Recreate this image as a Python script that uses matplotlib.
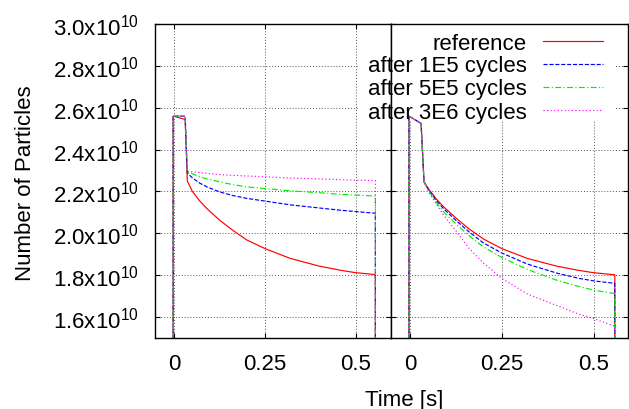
#Purpose: particle number vs time, reference against cycled runs (two panels)

import matplotlib
matplotlib.use('Agg')
import matplotlib.pyplot as plt
from matplotlib.lines import Line2D
from matplotlib.patches import Rectangle

plt.rcParams['font.family'] = ['Liberation Sans', 'DejaVu Sans']
plt.rcParams['mathtext.fontset'] = 'custom'
plt.rcParams['mathtext.rm'] = 'Liberation Sans'
plt.rcParams['mathtext.it'] = 'Liberation Sans:italic'
plt.rcParams['mathtext.bf'] = 'Liberation Sans:bold'
plt.rcParams['font.size'] = 16

#Data, particle numbers in units of 1e10
labels = ['reference', 'after 1E5 cycles', 'after 5E5 cycles', 'after 3E6 cycles']

t_left = [-0.003, -0.003, 0.03, 0.036, 0.05, 0.07, 0.09, 0.125, 0.16, 0.2,
          0.25, 0.32, 0.4, 0.46, 0.5, 0.554, 0.554]
ref_left = [0, 2.56, 2.544, 2.25, 2.20, 2.155, 2.118, 2.063, 2.016, 1.968,
            1.927, 1.880, 1.843, 1.823, 1.812, 1.803, 0]
c1e5_left = [0, 2.56, 2.56, 2.288, 2.265, 2.24, 2.222, 2.198, 2.181, 2.167,
             2.154, 2.136, 2.121, 2.110, 2.104, 2.096, 0]
c5e5_left = [0, 2.56, 2.56, 2.292, 2.285, 2.27, 2.26, 2.246, 2.233, 2.222,
             2.214, 2.203, 2.194, 2.186, 2.183, 2.178, 0]
c3e6_left = [0, 2.56, 2.56, 2.297, 2.294, 2.29, 2.286, 2.281, 2.277, 2.274,
             2.270, 2.264, 2.260, 2.256, 2.254, 2.252, 0]

t_right = [-0.003, -0.003, 0.03, 0.038, 0.05, 0.07, 0.09, 0.125, 0.16, 0.2,
           0.25, 0.32, 0.4, 0.46, 0.5, 0.558, 0.558]
ref_right = [0, 2.56, 2.525, 2.246, 2.213, 2.167, 2.129, 2.073, 2.022, 1.973,
             1.927, 1.880, 1.843, 1.823, 1.812, 1.802, 0]
c1e5_right = [0, 2.56, 2.525, 2.246, 2.21, 2.16, 2.12, 2.062, 2.008, 1.954,
              1.906, 1.853, 1.81, 1.785, 1.773, 1.761, 0]
c5e5_right = [0, 2.56, 2.525, 2.246, 2.205, 2.15, 2.105, 2.045, 1.99, 1.935,
              1.885, 1.827, 1.776, 1.746, 1.729, 1.712, 0]
c3e6_right = [0, 2.56, 2.525, 2.246, 2.2, 2.145, 2.09, 2.012, 1.93, 1.858,
              1.785, 1.71, 1.655, 1.614, 1.593, 1.556, 0]

x_ticks = [0, 0.25, 0.5]
x_ticklabels = ['0', '0.25', '0.5']
y_ticks = [1.6, 1.8, 2.0, 2.2, 2.4, 2.6, 2.8, 3.0]

#Line styles, gnuplot look
styles = [
    dict(color='#ff0000', linestyle='-'),
    dict(color='#0000ff', linestyle=(0, (3.5, 1.5))),
    dict(color='#00ee00', linestyle=(0, (5, 2, 1, 2))),
    dict(color='#ff00ff', linestyle=(0, (1, 2))),
]

W, H = 629, 410


def style_axes(ax, xlim):
    """Grid, ticks and limits in gnuplot fashion"""
    ax.set_xlim(*xlim)
    ax.set_ylim(1.5, 3.0)
    ax.set_xticks(x_ticks)
    ax.set_xticklabels(x_ticklabels)
    ax.set_yticks(y_ticks)
    ax.set_axisbelow(True)
    ax.grid(True, color='#555555', linewidth=0.7, linestyle=(0, (1, 2)))
    ax.tick_params(direction='in', length=3.6, width=0.8, top=True, right=True)
    ax.tick_params(axis='x', pad=11)
    ax.tick_params(axis='y', pad=12)
    for sp in ax.spines.values():
        sp.set_linewidth(1.0)


def plot_panel(ax, t, series):
    """Draw the four curves of one panel"""
    for y, st in zip(series, styles):
        ax.plot(t, y, linewidth=0.85, zorder=2, **st)


def key_box(ax, x0, x1):
    """White key background that hides the grid behind the key"""
    ax.add_patch(Rectangle((x0, 0.69), x1 - x0, 0.31, transform=ax.transAxes,
                           facecolor='white', edgecolor='none', zorder=1))


def draw_key(fig):
    """Gnuplot style key: right justified text, sample on the right"""
    rows = [42, 65, 88, 111]
    for lab, st, yy in zip(labels, styles, rows):
        fig.text(527 / W, 1 - (yy + 7.5) / H, lab, ha='right', va='baseline',
                 fontsize=16, zorder=5)
        fig.add_artist(Line2D([543 / W, 603 / W], [1 - yy / H, 1 - yy / H],
                              transform=fig.transFigure, linewidth=0.85,
                              zorder=5, **st))


def main():
    fig = plt.figure(figsize=(W / 100, H / 100), dpi=100)
    ax_l = fig.add_axes([155 / W, 71 / H, 236 / W, 314 / H])
    ax_r = fig.add_axes([391 / W, 71 / H, 237 / W, 314 / H])

    style_axes(ax_l, (-0.053, 0.597))
    style_axes(ax_r, (-0.052, 0.594))
    ax_l.set_yticklabels(['%.1fx10$^{10}$' % v for v in y_ticks])
    ax_r.set_yticklabels([])

    plot_panel(ax_l, t_left, [ref_left, c1e5_left, c5e5_left, c3e6_left])
    plot_panel(ax_r, t_right, [ref_right, c1e5_right, c5e5_right, c3e6_right])

    key_box(ax_l, (358 - 155) / 236, 1.0)
    key_box(ax_r, 0.0, (616 - 391) / 237)
    draw_key(fig)

    fig.text(25.8 / W, 1 - 183.5 / H, 'Number of Particles', rotation=90,
             ha='center', va='center', fontsize=16)
    fig.text(404 / W, 1 - 406 / H, 'Time [s]', ha='center', va='baseline',
             fontsize=16)

    fig.savefig('out.png', dpi=100)


if __name__ == '__main__':
    main()
